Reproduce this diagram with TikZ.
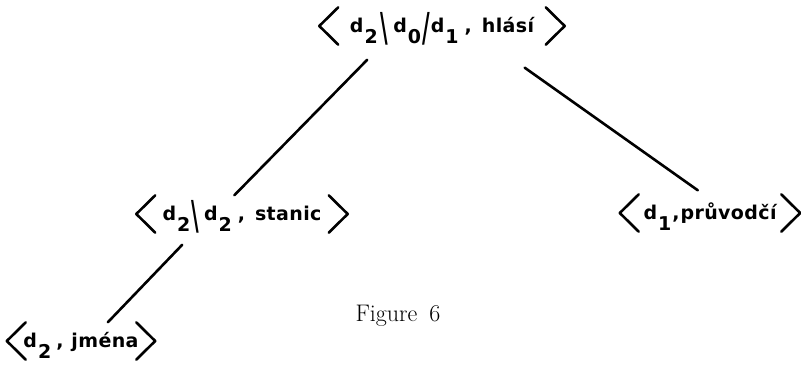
\documentclass[tikz,border=0pt]{standalone}
\usepackage{fontspec}
\usepackage{graphicx}
\usetikzlibrary{calc}
\newfontfamily\labfont[LetterSpace=2]{DejaVu Sans Bold}
\newcommand\dsub[1]{d\hspace{1pt}\raisebox{-11pt}{#1}}
\newcommand\bsl{\raisebox{-9pt}{\scalebox{1.1}[2.1]{\textbackslash}}}
\newcommand\slsh{\raisebox{-9pt}{\scalebox{1.1}[2.1]{/}}}
\tikzset{
  bar/.style={line width=2.6pt,line cap=round,line join=round},
  tuple/.style={font=\labfont\fontsize{19}{21}\selectfont,
    minimum height=37pt,inner sep=0pt,text height=13pt,text depth=0pt,
    append after command={\pgfextra{
      \draw[bar] ([xshift=19pt]\tikzlastnode.north west) -- (\tikzlastnode.west)
        -- ([xshift=19pt]\tikzlastnode.south west);
      \draw[bar] ([xshift=-19pt]\tikzlastnode.north east) -- (\tikzlastnode.east)
        -- ([xshift=-19pt]\tikzlastnode.south east);}}},
  link/.style={bar}
}

\begin{document}
\begin{tikzpicture}[x=1pt,y=-1pt]
  \useasboundingbox (0,0) rectangle (801,365);
  \node[tuple,minimum width=245pt] (root) at (442,26)
    {\dsub{2}\hspace{3pt}\bsl\hspace{5pt}\dsub{0}\hspace{1pt}\slsh\hspace{1pt}\dsub{1}\hspace{6pt},\hspace{10pt}hlásí};
  \node[tuple,minimum width=211pt] (stanic) at (242,214)
    {\dsub{2}\hspace{1pt}\bsl\hspace{5pt}\dsub{2}\hspace{6pt},\hspace{10pt}stanic};
  \node[tuple,minimum width=180pt] (pruvodci) at (710,213)
    {\dsub{1}\hspace{1pt},\hspace{1pt}průvodčí};
  \node[tuple,minimum width=148pt] (jmena) at (81,341)
    {\dsub{2}\hspace{5pt},\hspace{8pt}jména};
  \node[font=\fontsize{24}{28}\selectfont] (caption) at (398,316) {Figure\enspace 6};
  % edges of the tree
  \draw[link] ([shift={(48,15)}]root.south west) -- ([shift={(98,0)}]stanic.north west);
  \draw[link] ([shift={(-40,23)}]root.south east) -- ([shift={(78,-4)}]pruvodci.north west);
  \draw[link] ([shift={(46,12)}]stanic.south west) -- ([shift={(101,0)}]jmena.north west);
\end{tikzpicture}
\end{document}
